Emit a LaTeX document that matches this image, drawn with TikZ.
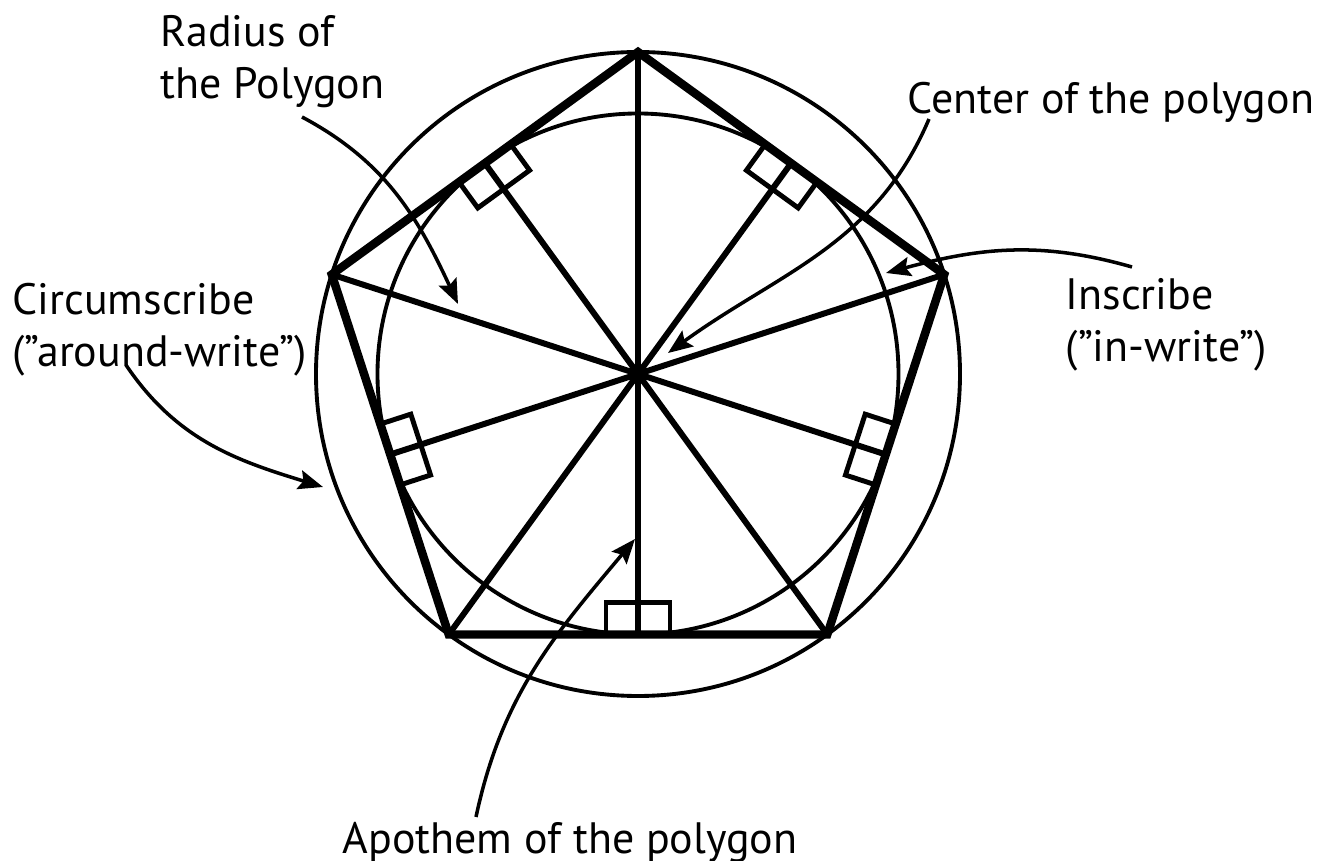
\documentclass[tikz,border=0pt]{standalone}
\usepackage{fontspec}
\setmainfont{PT Sans}
\usepackage{tikz}
\usetikzlibrary{positioning,arrows.meta}
\tikzset{
  pg/.style={draw=black, line width=2.4pt, line join=miter},
  sp/.style={draw=black, line width=1.7pt},
  cc/.style={draw=black, line width=1.1pt},
  rt/.style={draw=black, line width=1.4pt},
  ld/.style={draw=black, line width=1pt, -{Stealth[length=7pt,width=5.5pt,inset=1.2pt]}},
  lbl/.style={font=\fontsize{12.5}{14.8}\selectfont, inner sep=0pt, align=left, anchor=north west}
}

\begin{document}
\begin{tikzpicture}
  \useasboundingbox (-6.38,-4.87) rectangle (6.79,3.74);

  % Center, corners and tangent points
  \coordinate (O) at (0,0);
  \foreach \k/\a in {1/90,2/162,3/234,4/306,5/18}
    \coordinate (V\k) at (\a:3.22);
  \foreach \k/\a in {1/126,2/198,3/270,4/342,5/54}
    \coordinate (T\k) at (\a:2.605);

  % Circumscribed and inscribed circles
  \draw[cc] (O) circle (3.22);
  \draw[cc] (O) circle (2.605);

  % Right-angle marks
  \foreach \a in {126,198,270,342,54}
    \draw[rt, shift={(\a:2.605)}, rotate=\a+90] (-0.32,0) rectangle (0.32,0.32);

  % Radii and apothems
  \foreach \k in {1,...,5} {
    \draw[sp] (O) -- (V\k);
    \draw[sp] (O) -- (T\k);
  }

  % Polygon
  \draw[pg] (V1) -- (V2) -- (V3) -- (V4) -- (V5) -- cycle;
  \fill (O) circle (0.1);

  % Labels
  \node[lbl] (rad) at (-4.78,3.59) {Radius of\\the Polygon};
  \node[lbl] (cen) at (2.69,2.92) {Center of the polygon};
  \node[lbl] (ins) at (4.27,0.96) {Inscribe\\(”in-write”)};
  \node[lbl] (cir) at (-6.26,0.91) {Circumscribe\\(”around-write”)};
  \node[lbl] (apo) at (-2.96,-4.48) {Apothem of the polygon};

  % Leader ends
  \coordinate (radS) at (-3.36,2.57);
  \coordinate (radE) at (-1.80,0.70);
  \coordinate (cenS) at (2.91,2.55);
  \coordinate (cenE) at (0.30,0.21);
  \coordinate (insS) at (4.94,1.07);
  \coordinate (insE) at (2.48,1.01);
  \coordinate (cirS) at (-5.12,0.09);
  \coordinate (cirE) at (-3.15,-1.13);
  \coordinate (apoS) at (-1.62,-4.43);
  \coordinate (apoE) at (-0.03,-1.65);

  % Leader arrows
  \draw[ld] (radS) to[out=-28, in=115] (radE);
  \draw[ld] (cenS) to[out=-113, in=36] (cenE);
  \draw[ld] (insS) to[out=164, in=15] (insE);
  \draw[ld] (cirS) to[out=-56, in=163] (cirE);
  \draw[ld] (apoS) to[out=78, in=230] (apoE);
\end{tikzpicture}
\end{document}
